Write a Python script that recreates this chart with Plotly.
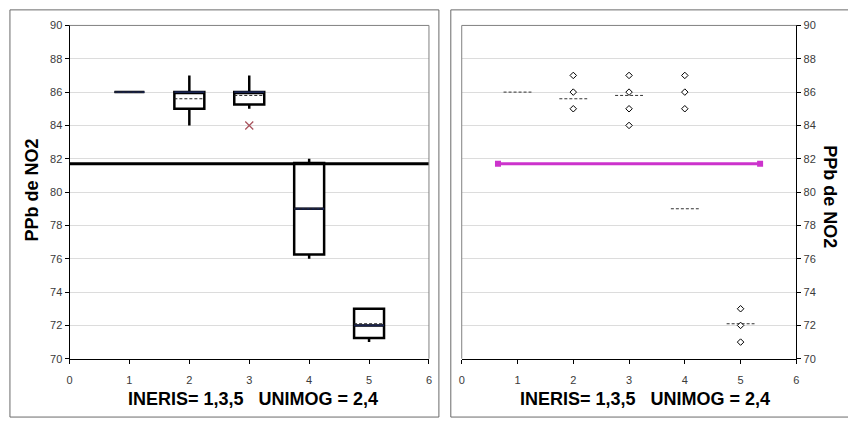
import plotly.graph_objects as go

W, H = 848, 425

# ---------------- data ----------------
groups = [1, 2, 3, 4, 5]
box_q1 = [86, 85, 85.25, 76.25, 71.25]
box_median = [86, 86, 86, 79, 72]
box_q3 = [86, 86, 86, 81.75, 73]
box_low = [86, 84, 85, 76, 71]
box_high = [86, 87, 87, 82, 73]
group_mean = [86, 85.6, 85.8, 79, 72.1]
outlier_x = [3]
outlier_y = [84]
ref_value = 81.7
ref_span_right = [0.65, 5.35]

# individual values shown in right panel
pts_g2 = [87, 86, 85]
pts_g3 = [87, 86, 85, 84]
pts_g4 = [87, 86, 85]
pts_g5 = [73, 72, 71]
pts_groups = [2, 3, 4, 5]
pts_values = [pts_g2, pts_g3, pts_g4, pts_g5]

x_ticks = [0, 1, 2, 3, 4, 5, 6]
y_ticks = [70, 72, 74, 76, 78, 80, 82, 84, 86, 88, 90]
title_y = "PPb de NO2"
title_x = "INERIS= 1,3,5   UNIMOG = 2,4"

# ---------------- geometry ----------------
def px(x):
    return x / W

def py(y):
    return 1 - y / H

xdom1 = [px(67), px(429)]
xdom2 = [px(462), px(799)]
ydom = [py(363), py(20)]
half = 0.25

def seg(centers, values):
    xs, ys = [], []
    for c, v in zip(centers, values):
        xs += [c - half, c + half, None]
        ys += [v, v, None]
    return xs, ys

fig = go.Figure()

# ---------------- left panel ----------------
fig.add_trace(go.Box(
    x=groups, q1=box_q1, median=box_median, q3=box_q3,
    lowerfence=box_low, upperfence=box_high,
    width=0.5, whiskerwidth=0, boxpoints=False,
    line=dict(color="black", width=2.5), fillcolor="white",
    xaxis="x", yaxis="y", showlegend=False, hoverinfo="skip",
))
mx, my = seg(groups, box_median)
fig.add_trace(go.Scatter(x=mx, y=my, mode="lines",
                         line=dict(color="#18234f", width=1.8),
                         xaxis="x", yaxis="y", showlegend=False, hoverinfo="skip"))
ax_, ay_ = seg(groups, group_mean)
fig.add_trace(go.Scatter(x=ax_, y=ay_, mode="lines",
                         line=dict(color="#222", width=1, dash="3px,2px"),
                         xaxis="x", yaxis="y", showlegend=False, hoverinfo="skip"))
fig.add_trace(go.Scatter(x=outlier_x, y=outlier_y, mode="markers",
                         marker=dict(symbol="x-thin", size=8,
                                     line=dict(color="#a8545e", width=1.3)),
                         xaxis="x", yaxis="y", showlegend=False, hoverinfo="skip"))
fig.add_trace(go.Scatter(x=[x_ticks[0], x_ticks[-1]], y=[ref_value, ref_value],
                         mode="lines", line=dict(color="black", width=3),
                         xaxis="x", yaxis="y", showlegend=False, hoverinfo="skip"))

# ---------------- right panel ----------------
dx, dy = [], []
for g, vals in zip(pts_groups, pts_values):
    dx += [g] * len(vals)
    dy += vals
rx, ry = seg(groups, group_mean)
fig.add_trace(go.Scatter(x=rx, y=ry, mode="lines",
                         line=dict(color="#333", width=1, dash="3px,2px"),
                         xaxis="x2", yaxis="y2", showlegend=False, hoverinfo="skip"))
fig.add_trace(go.Scatter(x=dx, y=dy, mode="markers",
                         marker=dict(symbol="diamond", size=5, color="white",
                                     line=dict(color="black", width=1)),
                         xaxis="x2", yaxis="y2", showlegend=False, hoverinfo="skip"))
fig.add_trace(go.Scatter(x=ref_span_right, y=[ref_value, ref_value],
                         mode="lines+markers",
                         line=dict(color="#cc33cc", width=3),
                         marker=dict(symbol="square", size=6, color="#cc33cc"),
                         xaxis="x2", yaxis="y2", showlegend=False, hoverinfo="skip"))

tickfont = dict(family="Liberation Sans, Arial", size=11, color="#3a3a3a")
common_x = dict(range=[0, 6], tickvals=x_ticks, showgrid=False, zeroline=False,
                showline=True, linecolor="black", linewidth=1,
                ticks="outside", ticklen=4, tickcolor="black",
                tickfont=tickfont, fixedrange=True, ticklabelstandoff=7)
common_y = dict(range=[70, 90], tickvals=y_ticks, showgrid=True,
                gridcolor="#dcdcdc", gridwidth=1, zeroline=False,
                showline=True, linecolor="black", linewidth=1,
                ticks="outside", ticklen=4, tickcolor="black",
                tickfont=tickfont, fixedrange=True, domain=ydom)

fig.update_layout(
    width=W, height=H,
    margin=dict(l=0, r=0, t=0, b=0),
    paper_bgcolor="white", plot_bgcolor="white",
    xaxis=dict(domain=xdom1, anchor="y", **common_x),
    yaxis=dict(anchor="x", side="left", **common_y),
    xaxis2=dict(domain=xdom2, anchor="y2", **common_x),
    yaxis2=dict(anchor="x2", side="right", **common_y),
)

border = "#6a6a6a"
shapes = [
    # outer panel frames
    dict(type="rect", xref="paper", yref="paper",
         x0=px(7), x1=px(439), y0=py(423), y1=py(4),
         line=dict(color=border, width=1)),
    dict(type="rect", xref="paper", yref="paper",
         x0=px(451), x1=px(860), y0=py(423), y1=py(4),
         line=dict(color=border, width=1)),
    # plot-area top/right (left panel), top/left (right panel)
    dict(type="line", xref="paper", yref="paper",
         x0=xdom1[0], x1=xdom1[1], y0=ydom[1], y1=ydom[1],
         line=dict(color="#808080", width=1)),
    dict(type="line", xref="paper", yref="paper",
         x0=xdom1[1], x1=xdom1[1], y0=ydom[0], y1=ydom[1],
         line=dict(color="#808080", width=1)),
    dict(type="line", xref="paper", yref="paper",
         x0=xdom2[0], x1=xdom2[1], y0=ydom[1], y1=ydom[1],
         line=dict(color="#808080", width=1)),
    dict(type="line", xref="paper", yref="paper",
         x0=xdom2[0], x1=xdom2[0], y0=ydom[0], y1=ydom[1],
         line=dict(color="#808080", width=1)),
]
fig.update_layout(shapes=shapes)

tfont = dict(family="Liberation Sans, Arial", size=18, color="black")
fig.update_layout(annotations=[
    dict(text="<b>%s</b>" % title_y, x=px(29.5), y=py(189.5), xref="paper", yref="paper",
         textangle=-90, showarrow=False, font=tfont, xanchor="center", yanchor="middle"),
    dict(text="<b>%s</b>" % title_y, x=px(832), y=py(196), xref="paper", yref="paper",
         textangle=90, showarrow=False, font=tfont, xanchor="center", yanchor="middle"),
    dict(text="<b>%s</b>" % title_x, x=px(252), y=py(404), xref="paper", yref="paper",
         showarrow=False, font=tfont, xanchor="center", yanchor="middle"),
    dict(text="<b>%s</b>" % title_x, x=px(647), y=py(404), xref="paper", yref="paper",
         showarrow=False, font=tfont, xanchor="center", yanchor="middle"),
])

fig.write_html("out.html")
